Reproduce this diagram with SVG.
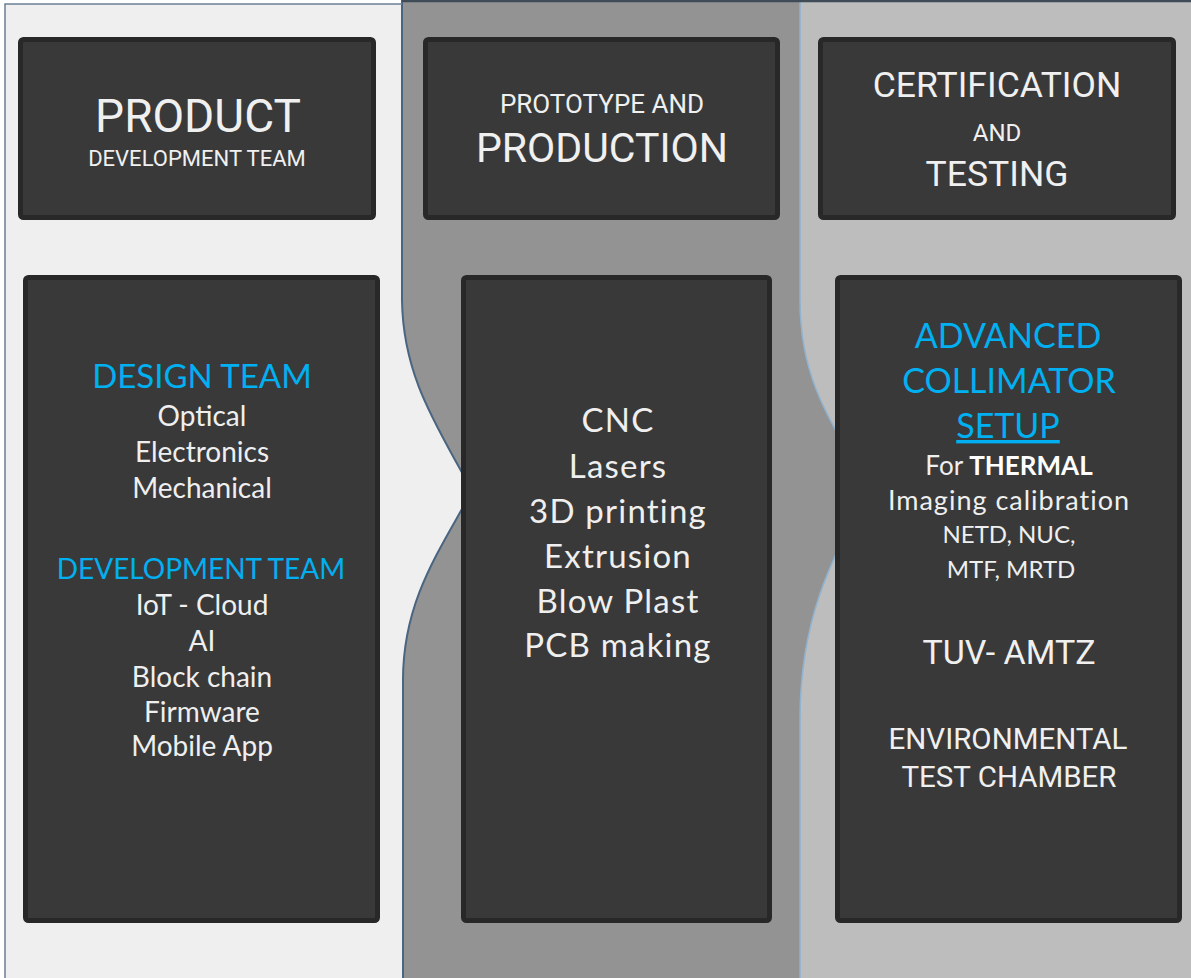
<svg xmlns="http://www.w3.org/2000/svg" width="1191" height="978" viewBox="0 0 1191 978">
<style>
.box{fill:#393939;stroke:#282828;stroke-width:5}
.h{font-family:Roboto,"Noto Sans","Liberation Sans",sans-serif;fill:#f0f0f0;text-anchor:middle}
.b{font-family:Lato,"Noto Sans","Liberation Sans",sans-serif;fill:#efefef;text-anchor:middle}
.blue{fill:#00b0f0}
.mid{font-size:33px;letter-spacing:1.2px}
</style>
<rect x="0" y="0" width="1191" height="978" fill="#ffffff"/>
<g id="panels">
<rect id="panel-right" x="800" y="0" width="391" height="978" fill="#bdbdbd"/>
<path id="panel-middle" d="M402,0 H800 V300 C800,380 830,420 870,490 C830,560 800,620 800,720 V978 H402 Z" fill="#939393"/>
<path id="panel-left" d="M5,4 H402 V300 C403,380 440,430 472,491 C440,550 403,600 403,680 V978 H5 Z" fill="#efefef"/>
</g>
<g id="borders" fill="none">
<path d="M402,300 C403,380 440,430 472,491 C440,550 403,600 403,680 V978" stroke="#4a6580" stroke-width="2"/>
<path d="M402,0 V300" stroke="#4a6580" stroke-width="2"/>
<path d="M800,0 V300 C800,380 830,420 870,490 C830,560 800,620 800,720 V978" stroke="#8fb3d0" stroke-width="1.5"/>
<path d="M5,978 V4 H402" stroke="#6b8096" stroke-width="1.5"/>
<path d="M402,1 H1191" stroke="#3f4b57" stroke-width="2.5"/>
</g>
<g id="product-header">
<rect class="box" x="20.5" y="39.5" width="353" height="178" rx="3"/>
<text class="h" x="198" y="132" font-size="46">PRODUCT</text>
<text class="h" x="197" y="166" font-size="22">DEVELOPMENT TEAM</text>
</g>
<g id="prototype-header">
<rect class="box" x="425.5" y="39.5" width="352" height="178" rx="3"/>
<text class="h" x="602" y="113" font-size="26">PROTOTYPE AND</text>
<text class="h" x="602" y="162" font-size="41">PRODUCTION</text>
</g>
<g id="certification-header">
<rect class="box" x="820.5" y="39.5" width="353" height="178" rx="3"/>
<text class="h" x="997" y="97" font-size="35.5">CERTIFICATION</text>
<text class="h" x="997" y="141" font-size="24">AND</text>
<text class="h" x="997" y="186" font-size="35.5">TESTING</text>
</g>
<g id="product-body">
<rect class="box" x="25.5" y="277.5" width="352" height="643" rx="3"/>
<text class="b blue" x="202" y="388" font-size="33">DESIGN TEAM</text>
<text class="b" x="202" y="426" font-size="28">Optical</text>
<text class="b" x="202" y="462" font-size="28">Electronics</text>
<text class="b" x="202" y="498" font-size="28">Mechanical</text>
<text class="b blue" x="201" y="579" font-size="28">DEVELOPMENT TEAM</text>
<text class="b" x="202" y="615" font-size="28">IoT - Cloud</text>
<text class="b" x="202" y="651" font-size="28">AI</text>
<text class="b" x="202" y="687" font-size="28">Block chain</text>
<text class="b" x="202" y="722" font-size="28">Firmware</text>
<text class="b" x="202" y="756" font-size="28">Mobile App</text>
</g>
<g id="prototype-body">
<rect class="box" x="463.5" y="277.5" width="306" height="643" rx="3"/>
<text class="b mid" x="618" y="432">CNC</text>
<text class="b mid" x="618" y="478">Lasers</text>
<text class="b mid" x="618" y="523">3D printing</text>
<text class="b mid" x="618" y="568">Extrusion</text>
<text class="b mid" x="618" y="613">Blow Plast</text>
<text class="b mid" x="618" y="657">PCB making</text>
</g>
<g id="certification-body">
<rect class="box" x="837.5" y="277.5" width="342" height="643" rx="3"/>
<text class="b blue" x="1008" y="348" font-size="34">ADVANCED</text>
<text class="b blue" x="1009" y="393" font-size="34">COLLIMATOR</text>
<text class="b blue" x="1008" y="438" font-size="34" text-decoration="underline">SETUP</text>
<text class="b" x="1009" y="475" font-size="26">For <tspan font-weight="bold" fill="#ffffff">THERMAL</tspan></text>
<text class="b" x="1009" y="510" font-size="27" letter-spacing="1">Imaging calibration</text>
<text class="b" x="1009" y="543" font-size="24">NETD, NUC,</text>
<text class="b" x="1011" y="578" font-size="24">MTF, MRTD</text>
<text class="h" x="1009" y="664" font-size="34">TUV- AMTZ</text>
<text class="h" x="1008" y="749" font-size="29.5">ENVIRONMENTAL</text>
<text class="h" x="1009" y="787" font-size="29.5">TEST CHAMBER</text>
</g>
</svg>
